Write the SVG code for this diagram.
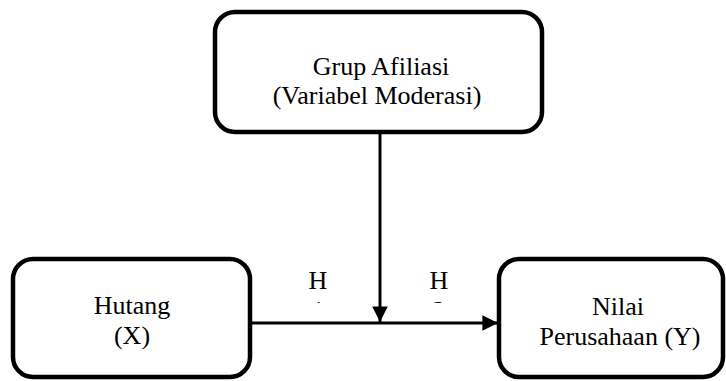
<svg xmlns="http://www.w3.org/2000/svg" width="726" height="381" viewBox="0 0 726 381">
  <style>
    .box { fill: #ffffff; stroke: #000000; stroke-width: 4.5; }
    .t { font-family: "Liberation Serif", "Times New Roman", serif; font-size: 26px; fill: #000000; text-anchor: middle; }
    .conn { stroke: #000000; stroke-width: 3; fill: none; }
  </style>
  <defs>
    <marker id="arrow" viewBox="0 0 10 10" refX="10" refY="5" markerWidth="5.2" markerHeight="5.2" markerUnits="strokeWidth" orient="auto">
      <path d="M0,0 L10,5 L0,10 z" fill="#000000"/>
    </marker>
    <clipPath id="subclip">
      <rect x="290" y="300" width="180" height="3"/>
    </clipPath>
  </defs>
  <rect width="726" height="381" fill="#ffffff"/>

  <g id="connectors">
    <line class="conn" x1="380" y1="132" x2="380" y2="322" marker-end="url(#arrow)"/>
    <line class="conn" x1="250" y1="323" x2="498" y2="323" marker-end="url(#arrow)"/>
    <text class="t" x="318" y="289">H</text>
    <text class="t" x="439" y="289">H</text>
    <g clip-path="url(#subclip)">
      <text class="t" x="318" y="319">1</text>
      <text class="t" x="439" y="319">2</text>
    </g>
  </g>

  <g id="node-moderasi">
    <rect class="box" x="215" y="12" width="327" height="120" rx="20" ry="20"/>
    <text class="t" x="381" y="75">Grup Afiliasi</text>
    <text class="t" x="377" y="104">(Variabel Moderasi)</text>
  </g>

  <g id="node-hutang">
    <rect class="box" x="13" y="259" width="237" height="118" rx="20" ry="20"/>
    <text class="t" x="132" y="314">Hutang</text>
    <text class="t" x="132" y="344">(X)</text>
  </g>

  <g id="node-nilai">
    <rect class="box" x="499" y="259" width="224" height="118" rx="20" ry="20"/>
    <text class="t" x="618" y="315">Nilai</text>
    <text class="t" x="620" y="345">Perusahaan (Y)</text>
  </g>
</svg>
